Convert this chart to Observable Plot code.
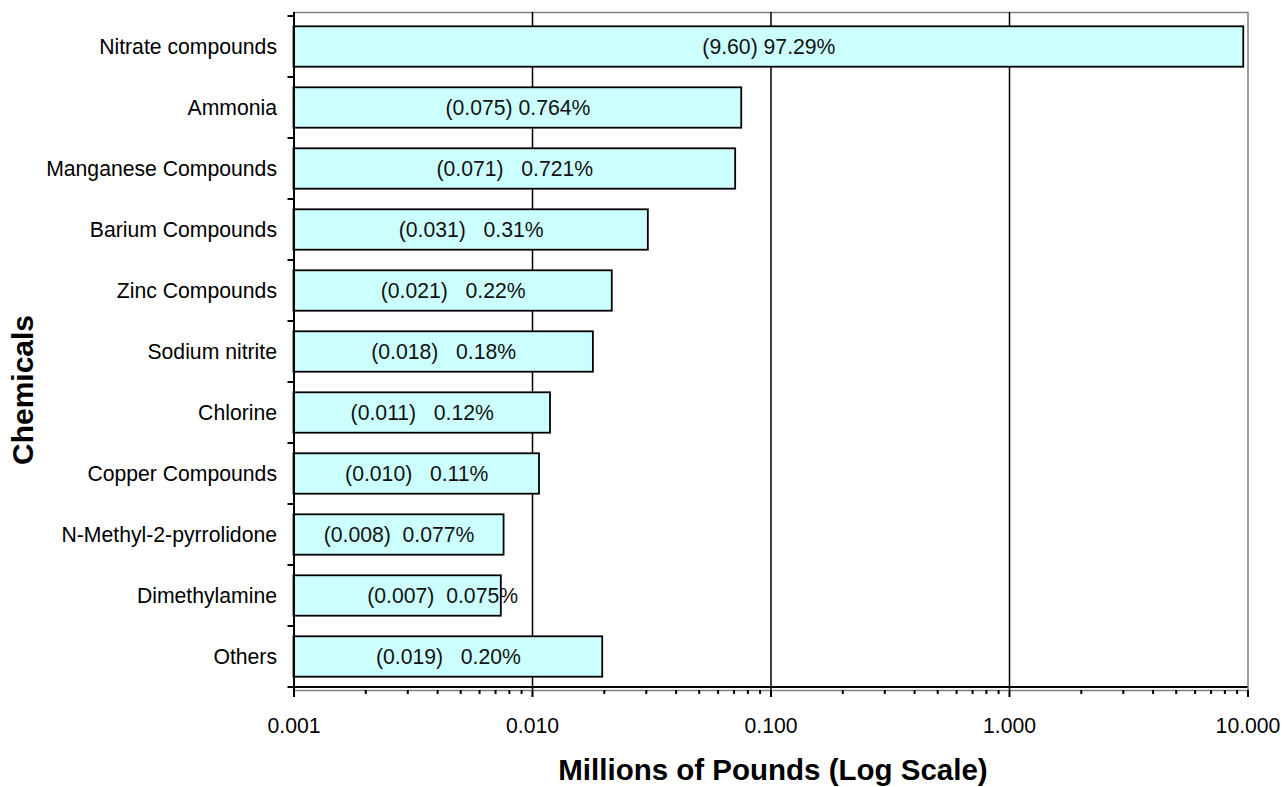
<!DOCTYPE html>
<html><head><meta charset="utf-8">
<script src="https://cdn.jsdelivr.net/npm/d3@7"></script>
<script src="https://cdn.jsdelivr.net/npm/@observablehq/plot@0.6"></script>
<style>
html,body{margin:0;padding:0;background:#fff;}
svg text{white-space:pre;}
</style></head><body><div id="chart"></div>
<script>
const chemicals = ["Nitrate compounds","Ammonia","Manganese Compounds","Barium Compounds","Zinc Compounds","Sodium nitrite","Chlorine","Copper Compounds","N-Methyl-2-pyrrolidone","Dimethylamine","Others"];
const pounds = [9.60, 0.0754, 0.0711, 0.0306, 0.0216, 0.0180, 0.0119, 0.0107, 0.0076, 0.0074, 0.0197];
const labels = ["(9.60) 97.29%","(0.075) 0.764%","(0.071)   0.721%","(0.031)   0.31%","(0.021)   0.22%","(0.018)   0.18%","(0.011)   0.12%","(0.010)   0.11%","(0.008)  0.077%","(0.007)  0.075%","(0.019)   0.20%"];
const majorTicks = [0.001, 0.01, 0.1, 1, 10];
const tickLabels = ["0.001","0.010","0.100","1.000","10.000"];
const xTitle = "Millions of Pounds (Log Scale)";
const yTitle = "Chemicals";

const base = 0.001;
const labelAnchorOverride = {"Dimethylamine": 0.0042};
const data = chemicals.map((c, i) => ({chemical: c, pounds: pounds[i], label: labels[i]}));
const minorTicks = [];
for (let k = 0; k < 4; k++) for (let m = 2; m <= 9; m++) minorTicks.push(m * majorTicks[k]);

const chart = Plot.plot({
  width: 1283, height: 787,
  marginLeft: 293.5, marginRight: 35.5, marginTop: 12, marginBottom: 97,
  style: {fontFamily: "'Liberation Sans', Arial, sans-serif", fontSize: "21.2px", background: "#fff", color: "#000"},
  x: {type: "log", domain: [0.001, 10], label: null},
  y: {domain: chemicals, padding: 0, label: null},
  marks: [
    Plot.frame({stroke: "#808080", strokeWidth: 1.5}),
    Plot.gridX([0.01, 0.1, 1], {stroke: "#000", strokeOpacity: 1, strokeWidth: 1.5}),
    Plot.barX(data, {x1: base, x2: "pounds", y: "chemical", fill: "#CCFFFF", stroke: "#000", strokeWidth: 1.8, insetTop: 10.3, insetBottom: 10.3}),
    Plot.text(data, {x: d => labelAnchorOverride[d.chemical] ?? Math.sqrt(base * d.pounds), y: "chemical", text: "label", fill: "#111"}),
    Plot.axisY({tickSize: 0, tickPadding: 17, label: null}),
    Plot.axisX(minorTicks, {tickSize: 4, tickFormat: () => "", label: null, strokeWidth: 2}),
    Plot.axisX(majorTicks, {tickSize: 7, tickPadding: 20, tickFormat: d => tickLabels[majorTicks.indexOf(d)], label: null, strokeWidth: 2}),
    Plot.ruleX([0.001], {stroke: "#000", strokeWidth: 2})
  ]
});
document.getElementById("chart").appendChild(chart);

const svg = d3.select(chart);
const ys = chart.scale("y");
const xs = chart.scale("x");
const x0 = xs.apply(0.001), x1 = xs.apply(10);
const yBottom = ys.apply(chemicals[chemicals.length - 1]) + ys.step;
// bottom axis line
svg.append("line").attr("x1", x0).attr("x2", x1).attr("y1", yBottom).attr("y2", yBottom)
  .attr("stroke", "#000").attr("stroke-width", 2);
// y ticks at band boundaries
const bounds = chemicals.map(c => ys.apply(c)).concat([yBottom]);
svg.append("g").selectAll("line").data(bounds).join("line")
  .attr("x1", x0 - 6).attr("x2", x0).attr("y1", d => d).attr("y2", d => d)
  .attr("stroke", "#000").attr("stroke-width", 2);
// titles
svg.append("text").attr("x", 773).attr("y", 780).attr("text-anchor", "middle")
  .attr("font-weight", "bold").attr("font-size", "29.5px").attr("fill", "#000").text(xTitle);
svg.append("text").attr("transform", "translate(33,390) rotate(-90)").attr("text-anchor", "middle")
  .attr("font-weight", "bold").attr("font-size", "30px").attr("fill", "#000").text(yTitle);
</script></body></html>
